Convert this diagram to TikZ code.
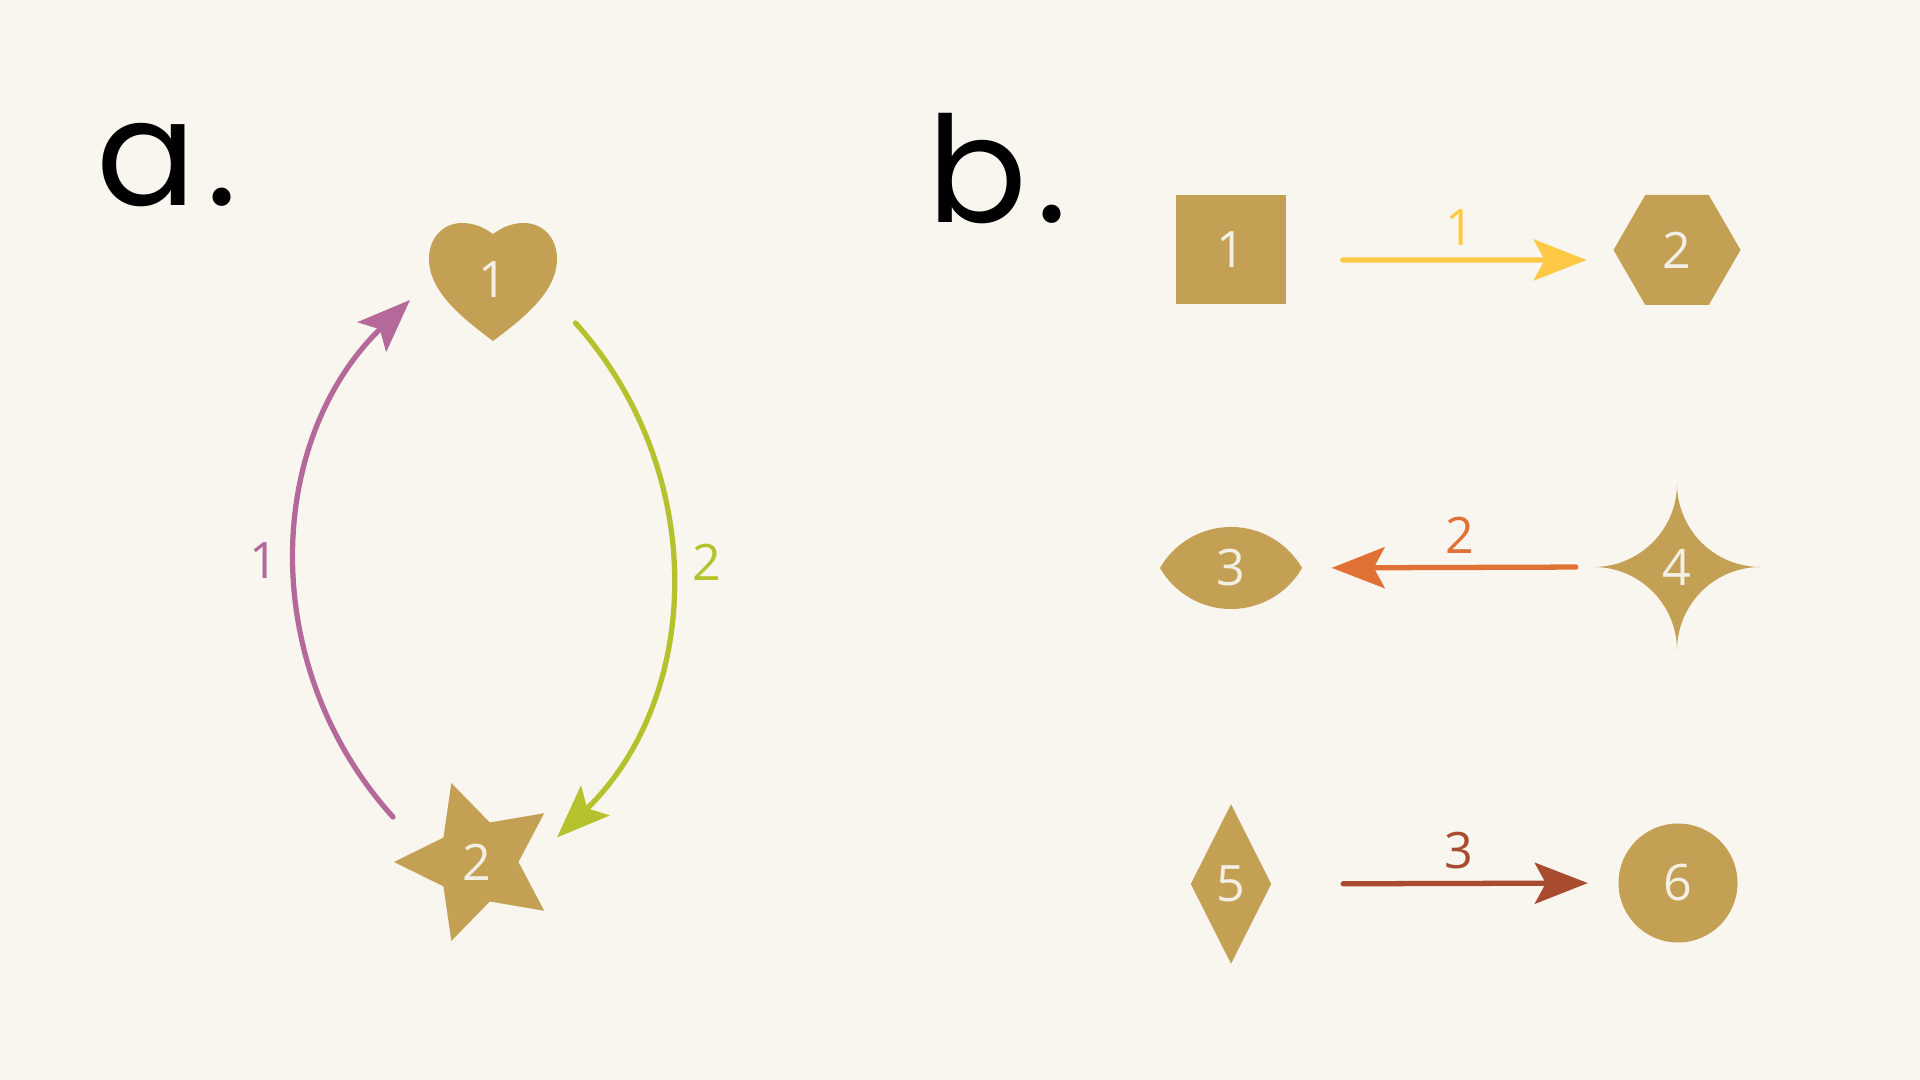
\documentclass[tikz,border=0pt]{standalone}
\usepackage{fontspec}
\setmainfont{Open Sans}
\newfontfamily\headfont{Poppins}
\usepackage{tikz}
\usetikzlibrary{calc,arrows.meta,shapes.geometric,positioning}
\definecolor{bg}{HTML}{F9F6EF}
\definecolor{gold}{HTML}{C4A055}
\definecolor{numcol}{HTML}{F3EFE4}
\definecolor{plum}{HTML}{B5699A}
\definecolor{lime}{HTML}{B5C22E}
\definecolor{sun}{HTML}{FFC845}
\definecolor{rust}{HTML}{E07235}
\definecolor{brick}{HTML}{A84B2E}

\begin{document}
\begin{tikzpicture}[font=\fontsize{14.3}{17}\selectfont,
		shp/.style={fill=gold, text=numcol, inner sep=0pt},
		lab/.style={text=numcol, inner sep=0pt},
		link/.style={line width=1.5pt, line cap=round, -{Stealth[length=0.53cm, width=0.41cm, inset=0.11cm]}},
		head/.style={anchor=base west, inner sep=0pt, font=\headfont\fontsize{42}{50}\selectfont}]
		\fill[bg] (0,0) rectangle (19.2,10.8);
		\useasboundingbox (0,0) rectangle (19.2,10.8);
		% heart: center #1
		\newcommand{\heartblob}[1]{
			\begin{scope}[shift={#1}]
				\fill[gold] (0,-0.61) .. controls (-0.25,-0.42) and (-0.64,-0.14) .. (-0.64,0.21)
					.. controls (-0.64,0.43) and (-0.49,0.57) .. (-0.31,0.57)
					.. controls (-0.17,0.57) and (-0.07,0.51) .. (0,0.46)
					.. controls (0.07,0.51) and (0.17,0.57) .. (0.31,0.57)
					.. controls (0.49,0.57) and (0.64,0.43) .. (0.64,0.21)
					.. controls (0.64,-0.14) and (0.25,-0.42) .. (0,-0.61) -- cycle;
			\end{scope}}
		% eye: center #1, two arcs of radius 0.82
		\newcommand{\eyeshape}[1]{
			\fill[gold, shift={#1}] (-0.71,0) arc[start angle=150, end angle=30, radius=0.82]
				arc[start angle=-30, end angle=-150, radius=0.82] -- cycle;}
		% four-point star: center #1, half size #2
		\newcommand{\sparkle}[2]{
			\pgfmathsetmacro{\r}{#2}
			\fill[gold, shift={#1}] (0,\r) arc[start angle=180, end angle=270, radius=\r]
				arc[start angle=90, end angle=180, radius=\r]
				arc[start angle=0, end angle=90, radius=\r]
				arc[start angle=270, end angle=360, radius=\r] -- cycle;}
		%%% a: cycle of two
		\node[head] (ta) at (0.96,8.74) {a\kern0.1cm.};
		\heartblob{(4.93,8.00)}
		\node[lab] (h1) at (4.93,8.00) {1};
		\node[shp, star, star points=5, star point ratio=2, minimum size=1.66cm, shape border rotate=90] (s2) at (4.77,2.18) {2};
		\coordinate (a1s) at ($(s2)+(-0.84,0.45)$);
		\coordinate (a1e) at ($(h1)+(-0.83,-0.20)$);
		\coordinate (a2s) at ($(h1)+(0.825,-0.43)$);
		\coordinate (a2e) at ($(s2)+(0.80,0.245)$);
		\draw[link, plum] (a1s) to[bend left=44] node[midway, xshift=-0.32cm, yshift=-0.06cm] (l1) {1} (a1e);
		\draw[link, lime] (a2s) to[bend left=44] node[midway, xshift=0.36cm, yshift=0.22cm] (l2) {2} (a2e);
		%%% b: three pairs
		\node[head] (tb) at (9.27,8.57) {b\kern0.09cm.};
		\node[shp, rectangle, minimum width=1.10cm, minimum height=1.09cm] (n1) at (12.31,8.30) {1};
		\node[shp, regular polygon, regular polygon sides=6, minimum size=1.27cm] (n2) at (16.77,8.30) {2};
		\eyeshape{(12.31,5.12)}
		\node[lab, minimum width=1.42cm, minimum height=0.82cm] (n3) at (12.31,5.12) {3};
		\sparkle{(16.77,5.13)}{0.835}
		\node[lab, minimum size=1.67cm] (n4) at (16.77,5.13) {4};
		\node[shp, diamond, minimum width=0.81cm, minimum height=1.60cm] (n5) at (12.31,1.96) {5};
		\node[shp, circle, minimum size=1.19cm] (n6) at (16.78,1.97) {6};
		\draw[link, sun, shorten <=0.56cm, shorten >=0.26cm] ([yshift=-0.1cm]n1.east) -- ([yshift=-0.1cm]n2.west) node[pos=0.53, above] (e1) {1};
		\draw[link, rust, shorten <=0.17cm, shorten >=0.29cm] (n4.west) -- (n3.east) node[pos=0.46, above] (e2) {2};
		\draw[link, brick, shorten <=0.71cm, shorten >=0.30cm] (n5.east) -- (n6.west) node[pos=0.54, above] (e3) {3};
	\end{tikzpicture}
\end{document}
